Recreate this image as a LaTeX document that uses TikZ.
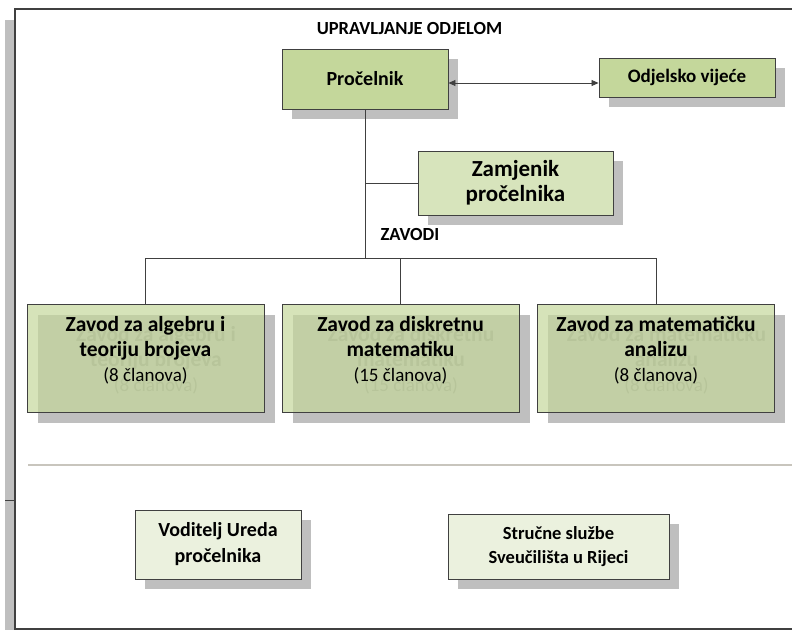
\documentclass[tikz,border=0pt]{standalone}
\usepackage{fontspec}
\setmainfont{Carlito}
\usetikzlibrary{arrows.meta,shadows}

\definecolor{edge}{RGB}{64,64,64}
\definecolor{olive}{RGB}{196,215,155}
\definecolor{olivelt}{RGB}{215,228,188}
\definecolor{olivepale}{RGB}{235,241,222}
\definecolor{rulegray}{RGB}{200,197,189}

\tikzset{
  box/.style={draw=edge, line width=0.9pt, align=center, inner sep=0pt},
  shade/.style={general shadow={fill=gray!50, shadow xshift=10pt, shadow yshift=-10pt}},
  head/.style={font=\bfseries\fontsize{18.5}{22}\selectfont, inner sep=0pt},
  unit/.style={box, fill=olive, fill opacity=0.7, minimum width=237pt, minimum height=108pt},
  ghostbox/.style={fill=gray!50, minimum width=237pt, minimum height=108pt},
  unittext/.style={align=center, inner sep=0pt, font=\bfseries\fontsize{21.5}{25}\selectfont},
  link/.style={draw=edge, line width=0.8pt},
}

\begin{document}
\begin{tikzpicture}[x=1pt,y=-1pt]
\useasboundingbox (0,0) rectangle (792,630);

%Shape: Frame
\fill[gray!50] (5,20) rectangle (15,630);
\draw[edge, line width=1.2pt] (800,9) -- (15,9) -- (15,629) -- (800,629);
\draw[edge, line width=0.8pt] (5,500) -- (15,500);
%Straight Lines
\draw[rulegray, line width=2pt] (28,465) -- (792,465);

% Text Node
\node[head] (title) at (409.5,28.5) {UPRAVLJANJE ODJELOM};
\node[head] (zavodi) at (410,234) {ZAVODI};

%Shape: Rectangle
\node[box, shade, fill=olive, minimum width=166pt, minimum height=60pt,
      font=\bfseries\fontsize{20}{24}\selectfont] (proc) at (365,79) {Pročelnik};
\node[box, shade, fill=olive, minimum width=176pt, minimum height=39pt,
      font=\bfseries\fontsize{19}{23}\selectfont] (vij) at (687,77.5) {Odjelsko vijeće};
\node[box, shade, fill=olivelt, minimum width=195pt, minimum height=64pt,
      font=\bfseries\fontsize{23}{25}\selectfont] (zam) at (515.5,183) {Zamjenik\\pročelnika};

%Shape: Zavodi
\foreach \n/\x/\t/\m in {zav1/145.5/{Zavod za algebru i\\teoriju brojeva}/8,
                         zav2/400.5/{Zavod za diskretnu\\matematiku}/15,
                         zav3/656/{Zavod za matematičku\\analizu}/8}{
  \node[ghostbox] (\n s) at (\x+10.5,368.5) {};
  \node[unittext, text=gray!80] (\n st) at (\x+10.5,360.5)
    {\t\\{\mdseries\fontsize{19}{25}\selectfont(\m~članova)}};
  \node[unit] (\n) at (\x,358) {};
  \node[unittext] (\n t) at (\x,350)
    {\t\\{\mdseries\fontsize{19}{25}\selectfont(\m~članova)}};
}

%Shape: Rectangle
\node[box, shade, fill=olivepale, minimum width=166pt, minimum height=69pt,
      font=\bfseries\fontsize{20}{26}\selectfont] (ured) at (218,544.5) {Voditelj Ureda\\pročelnika};
\node[box, shade, fill=olivepale, minimum width=221pt, minimum height=65pt,
      font=\bfseries\fontsize{18.5}{24}\selectfont] (sluzbe) at (558.5,546.5) {Stručne službe\\Sveučilišta u Rijeci};

%Straight Lines
\draw[link, {Triangle[length=7pt,width=6pt]}-{Triangle[length=7pt,width=6pt]}]
  ([yshift=-4pt]proc.east) -- ([yshift=-4pt]proc.east -| vij.west);
\coordinate (bus) at (365,258);
\draw[link] (proc.south) -- (bus);
\draw[link] (proc.south |- zam.west) -- (zam.west);
\draw[link] (zav1.north |- bus) -- (zav3.north |- bus);
\foreach \n in {zav1,zav2,zav3}
  \draw[link] (\n.north |- bus) -- (\n.north);

\end{tikzpicture}
\end{document}
